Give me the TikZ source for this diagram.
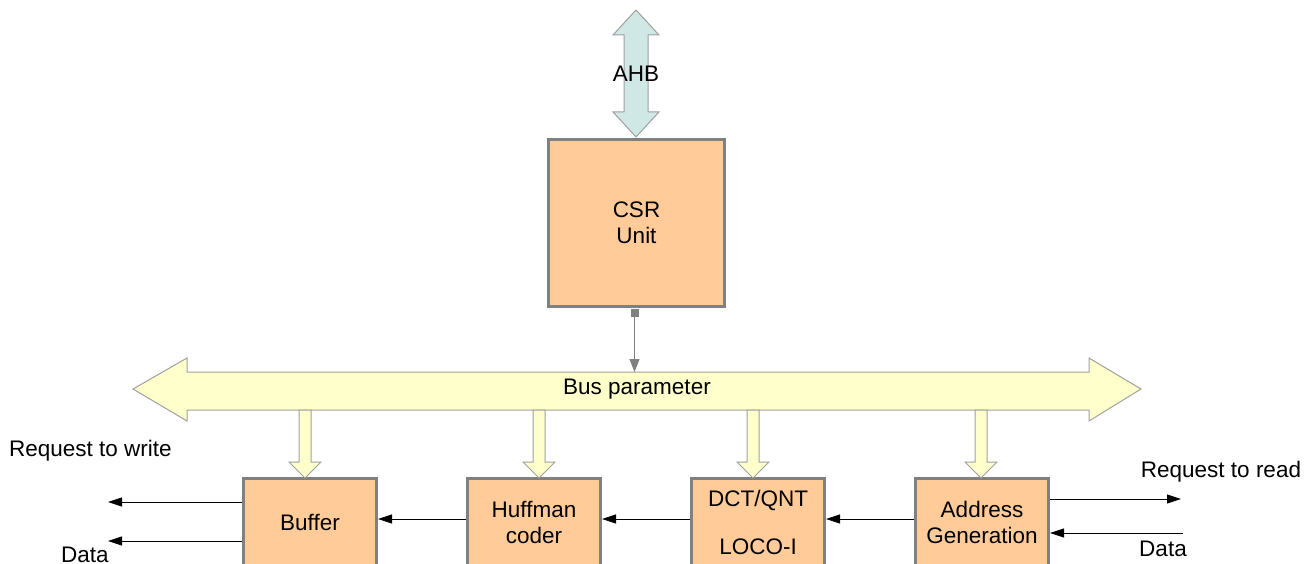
\documentclass[tikz,border=0pt]{standalone}
\usepackage{fontspec}
\setmainfont{Liberation Sans}
\usetikzlibrary{arrows.meta}
\definecolor{peach}{HTML}{FFCC99}
\definecolor{boxgray}{HTML}{808080}
\definecolor{busfill}{HTML}{FFFFCC}
\definecolor{busline}{HTML}{A0A0A0}
\definecolor{ahbfill}{HTML}{CFE7E5}
\begin{document}
\begin{tikzpicture}[x=1pt,y=-1pt,
  font=\fontsize{22.5}{26}\selectfont,
  block/.style={draw=boxgray, line width=3pt, fill=peach, align=center,
    minimum width=133pt, minimum height=88pt, inner sep=0pt},
  fat/.style={draw=busline, line width=1pt, fill=busfill, line join=miter},
  sig/.style={draw=black, line width=0.8pt, -{Triangle[length=14pt,width=9pt]}},
  lbl/.style={inner sep=0pt}]
\useasboundingbox (0,0) rectangle (1315,564);

% AHB double arrow
\draw[fat, fill=ahbfill] (636,10) -- (659,35) -- (648,35) -- (648,112) -- (659,112)
  -- (636,137) -- (613,112) -- (624,112) -- (624,35) -- (613,35) -- cycle;
\node[lbl] (ahb) at (636,74) {AHB};

% CSR unit
\node[block, minimum width=176pt, minimum height=167pt] (csr) at (636.5,223) {CSR\\Unit};

% Bus parameter double arrow
\draw[fat] (133,389) -- (187,358) -- (187,372) -- (1089,372) -- (1089,358) -- (1141,389)
  -- (1089,421) -- (1089,410) -- (187,410) -- (187,421) -- cycle;
\node[lbl] (bus) at (637,389) {Bus parameter};

% CSR -> bus connector
\node[draw=none, fill=boxgray, minimum size=8pt, inner sep=0pt] (sq) at (634.5,313) {};
\coordinate (bustop) at (634.5,372);
\draw[line width=1pt, -{Triangle[length=13pt,width=10pt]}, color=boxgray] (sq.south) -- (bustop);

% bottom blocks
\node[block] (buf)  at (310,522) {Buffer};
\node[block] (huf)  at (534,522) {Huffman\\coder};
\node[block] (dct)  at (758,522) {DCT/QNT\\[22pt]LOCO-I};
\node[block] (addr) at (982,522) {Address\\Generation};

% down arrows from bus
\foreach \c in {305,539,753,981}{
  \draw[fat] (\c-6,410) -- (\c+6,410) -- (\c+6,462) -- (\c+16,462) -- (\c,478)
    -- (\c-16,462) -- (\c-6,462) -- cycle;
}

% chain arrows
\draw[sig] ([yshift=3pt]addr.west) -- ([yshift=3pt]dct.east);
\draw[sig] ([yshift=3pt]dct.west) -- ([yshift=3pt]huf.east);
\draw[sig] ([yshift=3pt]huf.west) -- ([yshift=3pt]buf.east);

% buffer outputs
\coordinate (wreq) at (108,502);
\coordinate (wdat) at (108,541);
\draw[sig] (buf.west |- wreq) -- (wreq);
\draw[sig] (buf.west |- wdat) -- (wdat);
\node[lbl, anchor=west] (lwreq) at (9,451) {Request to write};
\node[lbl] (lwdat) at (85,555) {Data};

% address generation read interface
\coordinate (rreq) at (1181,499);
\coordinate (rdat) at (1183,533);
\draw[sig] (addr.east |- rreq) -- (rreq);
\draw[sig] (rdat) -- (addr.east |- rdat);
\node[lbl] (lrreq) at (1221,472) {Request to read};
\node[lbl] (lrdat) at (1163,549) {Data};
\end{tikzpicture}
\end{document}
